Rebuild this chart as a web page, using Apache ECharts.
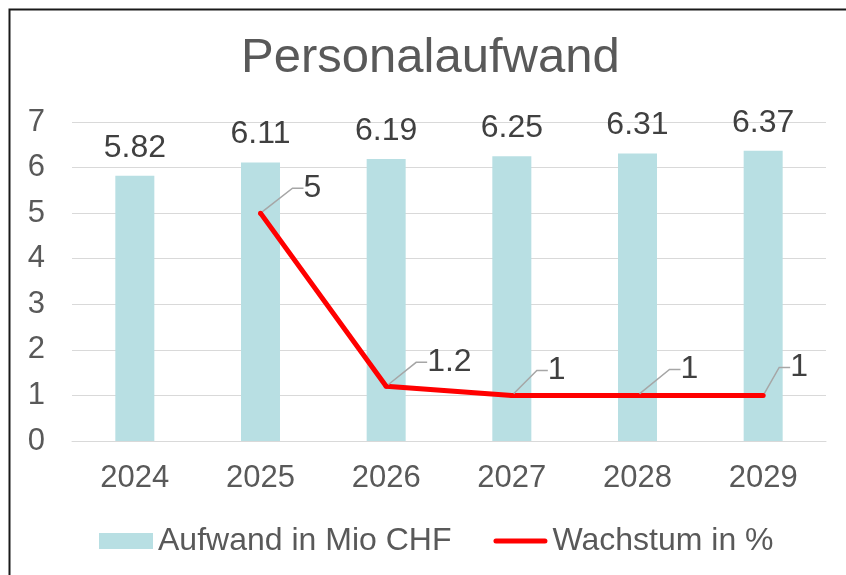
<!DOCTYPE html>
<html>
<head>
<meta charset="utf-8">
<script src="https://cdn.jsdelivr.net/npm/echarts@6/dist/echarts.min.js"></script>
<style>
  html, body { margin: 0; padding: 0; background: #fff; }
  #chart { width: 846px; height: 575px; }
</style>
</head>
<body>
<div id="chart"></div>
<script>
var years = ["2024", "2025", "2026", "2027", "2028", "2029"];
var aufwand = [5.82, 6.11, 6.19, 6.25, 6.31, 6.37];
var wachstum = [null, 5, 1.2, 1, 1, 1];
var seriesNames = ["Aufwand in Mio CHF", "Wachstum in %"];

// where each growth label sits, relative to its point (px)
var labelOffsets = [[0, 0], [35, -25], [33, -24], [28, -25], [35, -26], [19, -28]];

var font = "Liberation Sans, Arial, sans-serif";
var chart = echarts.init(document.getElementById("chart"));

var option = {
    animation: false,
    textStyle: { fontFamily: font },
    title: {
        text: "Personalaufwand",
        left: 241,
        top: 34,
        padding: 0,
        textStyle: { fontSize: 49, fontWeight: "normal", color: "#595959", fontFamily: font }
    },
    graphic: [{
        type: "rect",
        silent: true,
        shape: { x: 9.5, y: 9.5, width: 900, height: 700 },
        style: { fill: "none", stroke: "#1a1a1a", lineWidth: 2 }
    }],
    legend: {
        left: 99,
        top: 525,
        padding: 0,
        itemWidth: 54,
        itemHeight: 16,
        itemGap: 42,
        textStyle: { fontSize: 32, color: "#595959", fontFamily: font },
        data: [
            { name: seriesNames[0], icon: "rect" },
            { name: seriesNames[1], icon: "path://M2.5,0h49a2.5,2.5 0 0 1 0,5h-49a2.5,2.5 0 0 1 0,-5z" }
        ]
    },
    grid: { left: 72, right: 20, top: 122, bottom: 134 },
    xAxis: {
        type: "category",
        data: years,
        axisTick: { show: false },
        axisLine: { lineStyle: { color: "#d9d9d9", width: 1 } },
        axisLabel: { fontSize: 31, color: "#595959", margin: 22, fontFamily: font }
    },
    yAxis: {
        type: "value",
        min: 0,
        max: 7,
        interval: 1,
        axisLine: { show: false },
        axisTick: { show: false },
        splitLine: { lineStyle: { color: "#d9d9d9", width: 1 } },
        axisLabel: { fontSize: 31, color: "#595959", margin: 27, fontFamily: font }
    },
    series: [{
        name: seriesNames[0],
        type: "bar",
        barWidth: 39,
        itemStyle: { color: "#b8dfe3" },
        label: { show: true, position: "top", distance: 12, fontSize: 32, color: "#404040", fontFamily: font },
        data: aufwand
    }, {
        name: seriesNames[1],
        type: "line",
        z: 5,
        symbol: "circle",
        symbolSize: 5,
        itemStyle: { color: "#ff0000" },
        lineStyle: { color: "#ff0000", width: 5 },
        label: { show: true, position: "right", fontSize: 32, color: "#404040", padding: [0, 8], fontFamily: font },
        labelLayout: function (p) {
            var o = labelOffsets[p.dataIndex];
            return {
                x: p.rect.x + p.rect.width / 2 + o[0],
                y: p.rect.y + p.rect.height / 2 + o[1],
                align: "left",
                verticalAlign: "middle"
            };
        },
        labelLine: { show: true, length2: 11, lineStyle: { color: "#a6a6a6", width: 1.5 } },
        data: wachstum
    }]
};

chart.setOption(option);
</script>
</body>
</html>
